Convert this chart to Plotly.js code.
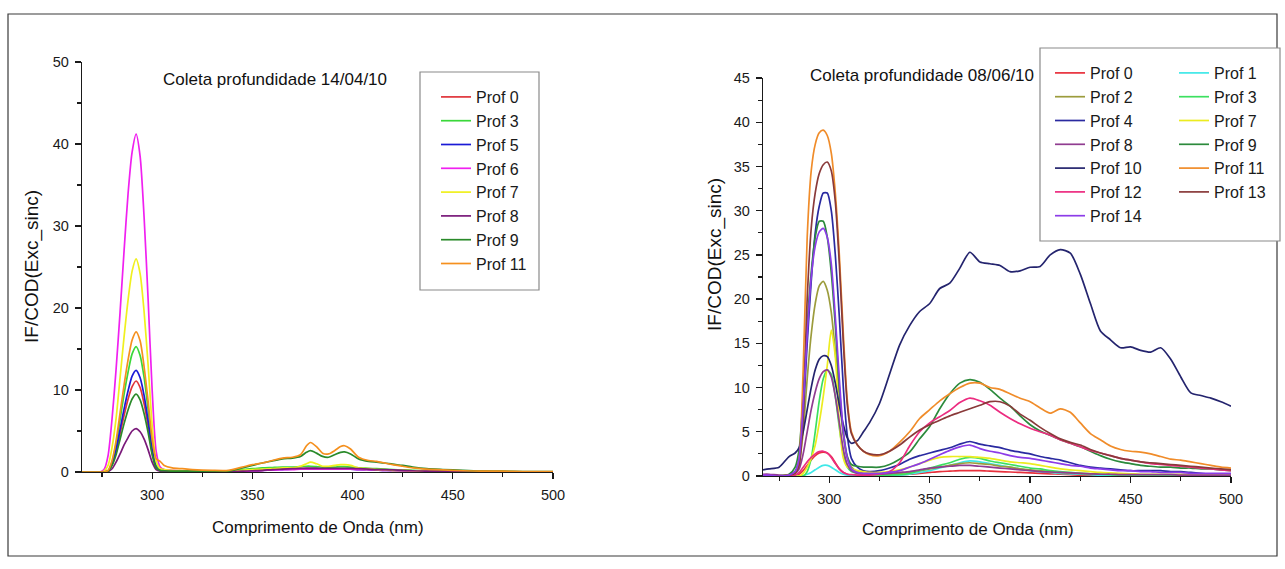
<!DOCTYPE html>
<html>
<head>
<meta charset="utf-8">
<script src="https://cdn.plot.ly/plotly-3.0.1.min.js"></script>
<style>
html,body{margin:0;padding:0;background:#ffffff;}
#chart{width:1285px;height:569px;}
</style>
</head>
<body>
<div id="chart"></div>
<script>
// ---------------- LEFT PANEL: Coleta profundidade 14/04/10 ----------------
const L_TITLE = "Coleta profundidade 14/04/10";
const L_X = [265,270,274,276,278,280,282,284,286,288,290,292,294,296,298,300,302,304,306,310,315,320,330,338,345,350,355,360,365,370,374,377,379,382,385,388,391,394,396,399,403,408,412,416,420,425,430,437,445,455,465,475,485,500];
const L_NAMES = ["Prof 0","Prof 3","Prof 5","Prof 6","Prof 7","Prof 8","Prof 9","Prof 11"];
const L_COLORS = ["#e0353a","#3ad83a","#1a1ad6","#f020f0","#f0f01e","#7a1a7a","#2a8a2a","#f5901e"];
const L_prof0 = [0,0,0,0,0.1,0.9,2.4,4.7,6.9,8.9,10.4,11.1,10.3,8.3,5.6,2.4,0.6,0.2,0.15,0.1,0.1,0.05,0.05,0.05,0.1,0.15,0.2,0.3,0.35,0.4,0.4,0.45,0.45,0.45,0.4,0.4,0.4,0.4,0.4,0.4,0.35,0.3,0.3,0.25,0.2,0.2,0.15,0.1,0.1,0.05,0.05,0,0,0];
const L_prof3 = [0,0,0,0,0.15,1.2,3.4,6.4,9.5,12.2,14.4,15.3,14.2,11.5,7.6,3.4,0.8,0.3,0.2,0.15,0.1,0.1,0.05,0.1,0.3,0.4,0.5,0.55,0.6,0.6,0.65,0.7,0.7,0.65,0.6,0.6,0.6,0.65,0.65,0.6,0.5,0.45,0.4,0.35,0.3,0.25,0.2,0.15,0.1,0.1,0.05,0.05,0,0];
const L_prof5 = [0,0,0,0,0.1,1.0,2.7,5.2,7.7,9.9,11.7,12.4,11.5,9.3,6.2,2.7,0.6,0.2,0.15,0.1,0.05,0.05,0.05,0.05,0.1,0.15,0.2,0.25,0.3,0.35,0.35,0.4,0.4,0.4,0.35,0.35,0.35,0.35,0.35,0.35,0.3,0.3,0.25,0.2,0.2,0.15,0.1,0.1,0.05,0.05,0,0,0,0];
const L_prof6 = [0,0,0,0.3,2,6.5,12.5,19.5,27,34,39,41.2,38.5,31,21,10,2.5,0.6,0.3,0.2,0.1,0.1,0.1,0.1,0.1,0.15,0.2,0.25,0.3,0.3,0.35,0.35,0.35,0.35,0.35,0.35,0.35,0.35,0.35,0.35,0.3,0.3,0.25,0.2,0.2,0.15,0.1,0.1,0.05,0.05,0,0,0,0];
const L_prof7 = [0,0,0,0.1,0.8,3,6.5,11.5,16.5,21,24.5,26,24.2,19.5,13,5.7,1.3,0.4,0.3,0.2,0.15,0.1,0.1,0.15,0.2,0.3,0.35,0.4,0.5,0.5,0.7,1.0,1.2,1.0,0.7,0.7,0.8,0.9,0.9,0.8,0.5,0.4,0.3,0.3,0.2,0.2,0.15,0.1,0.1,0.05,0.05,0,0,0];
const L_prof8 = [0,0,0,0,0.05,0.4,1.2,2.2,3.3,4.2,5.0,5.3,4.9,4.0,2.7,1.2,0.3,0.1,0.1,0.05,0.05,0.05,0.05,0.05,0.1,0.15,0.2,0.3,0.35,0.4,0.45,0.45,0.45,0.45,0.45,0.45,0.45,0.45,0.45,0.45,0.4,0.35,0.3,0.3,0.25,0.2,0.15,0.1,0.1,0.05,0.05,0,0,0];
const L_prof9 = [0,0,0,0,0.1,0.8,2.1,4,5.9,7.6,8.9,9.5,8.8,7.1,4.8,2.1,0.5,0.2,0.15,0.1,0.1,0.1,0.05,0.1,0.5,0.8,1.1,1.35,1.6,1.7,1.9,2.4,2.6,2.3,1.9,1.8,2.1,2.4,2.45,2.2,1.6,1.3,1.2,1.1,0.95,0.8,0.6,0.4,0.3,0.2,0.1,0.1,0.05,0.05];
const L_prof11 = [0,0,0,0,0.2,1.4,3.8,7.2,10.6,13.7,16.1,17.1,16,12.8,8.6,4,1.6,1.3,0.8,0.5,0.4,0.3,0.2,0.2,0.6,0.9,1.1,1.4,1.7,1.8,2.1,3.2,3.6,3.1,2.3,2.2,2.6,3.1,3.2,2.8,1.8,1.4,1.3,1.1,0.9,0.7,0.5,0.35,0.25,0.15,0.1,0.1,0.05,0.05];
const L_SERIES = [L_prof0,L_prof3,L_prof5,L_prof6,L_prof7,L_prof8,L_prof9,L_prof11];

// ---------------- RIGHT PANEL: Coleta profundidade 08/06/10 ----------------
const R_TITLE = "Coleta profundidade 08/06/10";
const R_X = [267,270,275,280,283,285,287,289,291,293,295,297,299,301,303,305,307,309,311,314,317,320,325,330,335,340,345,350,355,360,365,370,375,380,385,390,395,400,405,410,415,420,425,430,435,440,445,450,455,460,465,470,475,480,485,490,495,500];
const R_NAMES = ["Prof 0","Prof 1","Prof 2","Prof 3","Prof 4","Prof 7","Prof 8","Prof 9","Prof 10","Prof 11","Prof 12","Prof 13","Prof 14"];
const R_COLORS = ["#e8303c","#40e8e8","#9c9c3c","#3ce060","#2a2aa0","#ecec20","#903c90","#2c8a3c","#24246e","#f08c2a","#ec2c80","#8a3a3a","#8c3ce8"];
const R_prof0 = [0,0,0,0,0.05,0.2,0.6,1.2,1.8,2.3,2.6,2.7,2.6,2.2,1.5,0.8,0.4,0.2,0.1,0.05,0.05,0.05,0.05,0.1,0.15,0.2,0.3,0.4,0.5,0.55,0.6,0.6,0.6,0.55,0.5,0.45,0.4,0.35,0.3,0.25,0.2,0.15,0.1,0.1,0.05,0.05,0.05,0.05,0.05,0.05,0.05,0.05,0.05,0.05,0.05,0.05,0.05,0.05];
const R_prof1 = [0,0,0,0,0,0,0.05,0.2,0.4,0.7,1.0,1.2,1.2,1.0,0.7,0.4,0.2,0.1,0.05,0,0,0,0,0.05,0.1,0.2,0.4,0.6,0.9,1.2,1.5,1.7,1.6,1.4,1.2,1.0,0.8,0.6,0.5,0.4,0.3,0.25,0.2,0.15,0.1,0.1,0.05,0.05,0.05,0.05,0.05,0.05,0.05,0.05,0.05,0.05,0.05,0.05];
const R_prof2 = [0,0,0,0.1,0.5,1.5,5,11,16,19.5,21.5,22,21,18.5,14,9,4.5,2,1,0.5,0.3,0.2,0.2,0.2,0.3,0.4,0.6,0.8,1.0,1.2,1.4,1.5,1.4,1.3,1.1,1.0,0.8,0.7,0.6,0.5,0.4,0.35,0.3,0.25,0.2,0.2,0.15,0.15,0.1,0.1,0.1,0.1,0.1,0.1,0.1,0.1,0.1,0.1];
const R_prof3 = [0,0,0,0,0,0,0,0.5,2,5,8.5,11,12,11.5,9,5.5,2.5,1,0.5,0.3,0.2,0.15,0.1,0.1,0.15,0.3,0.6,0.9,1.2,1.5,1.9,2.1,2.0,1.7,1.5,1.3,1.1,0.9,0.8,0.6,0.5,0.4,0.3,0.25,0.2,0.15,0.1,0.1,0.1,0.1,0.1,0.1,0.1,0.1,0.1,0.1,0.1,0.1];
const R_prof4 = [0,0,0,0.1,0.5,2,7,15,22,27.5,30.5,32,32,30,25,18,10,4.5,2,1,0.6,0.5,0.6,0.9,1.3,1.9,2.3,2.6,2.9,3.2,3.6,3.9,3.6,3.4,3.2,2.9,2.7,2.5,2.2,2.0,1.8,1.5,1.2,1.0,0.9,0.8,0.7,0.6,0.6,0.6,0.6,0.5,0.5,0.4,0.3,0.2,0.15,0.1];
const R_prof7 = [0,0,0,0,0,0,0.3,1,2,3.5,6,9,12.5,16.5,13.5,6,2,1,0.8,0.6,0.5,0.4,0.4,0.5,0.7,1.0,1.4,1.8,2.1,2.2,2.2,2.2,2.1,2.0,1.8,1.6,1.5,1.4,1.2,1.0,0.8,0.7,0.6,0.5,0.4,0.35,0.3,0.25,0.2,0.2,0.2,0.2,0.2,0.2,0.2,0.2,0.2,0.2];
const R_prof8 = [0.2,0.2,0.1,0.1,0.3,0.8,2.5,5,7.5,9.5,11,11.8,12,11.2,9,6,3,1.3,0.6,0.3,0.2,0.2,0.2,0.3,0.4,0.5,0.7,0.9,1.0,1.1,1.2,1.2,1.1,1.0,0.9,0.8,0.7,0.6,0.5,0.45,0.4,0.35,0.3,0.25,0.2,0.2,0.15,0.15,0.15,0.15,0.15,0.15,0.1,0.1,0.1,0.1,0.1,0.1];
const R_prof9 = [0,0,0,0.2,1,3,9,17,23,27,28.8,28.8,27,23,17,10,5,2.2,1.3,1.1,1.0,1.0,1.0,1.3,1.9,2.7,4.2,5.6,7.6,9.3,10.5,10.9,10.6,9.8,8.8,7.9,6.8,5.8,5.1,4.6,4.1,3.7,3.3,2.8,2.3,1.9,1.6,1.4,1.2,1.1,1.0,1.0,0.9,0.9,0.8,0.8,0.7,0.6];
const R_prof10 = [0.7,0.8,1.0,2.2,2.6,3.2,5,7.5,10,12,13.2,13.6,13.5,12.5,10.5,8,5.8,4.3,3.7,4.0,5.0,6.0,8.2,11.5,14.8,17.0,18.6,19.5,21.2,21.8,23.5,25.3,24.2,24.0,23.8,23.1,23.2,23.6,23.7,25.0,25.6,25.2,22.8,19.5,16.4,15.4,14.5,14.6,14.2,14.0,14.5,13.2,11.2,9.4,9.1,8.8,8.4,7.9];
const R_prof11 = [0,0,0,0.1,0.3,2,12,27,34.5,37.5,38.8,39.1,38.5,36.5,32,25,16,8.5,5,3.5,2.8,2.4,2.3,2.8,3.8,5.0,6.5,7.5,8.5,9.3,10.0,10.5,10.5,10.0,9.8,9.3,8.8,8.4,7.7,7.1,7.6,7.2,6.0,4.8,4.1,3.4,3.0,2.8,2.7,2.5,2.2,1.9,1.8,1.6,1.4,1.2,1.0,0.9];
const R_prof12 = [0.1,0.05,0,0,0.1,0.4,1.0,1.6,2.1,2.5,2.75,2.8,2.6,2.1,1.4,0.8,0.4,0.2,0.15,0.1,0.1,0.1,0.2,0.5,1.5,3.4,5.0,6.0,6.7,7.4,8.3,8.8,8.5,8.0,7.2,6.5,5.9,5.4,5.0,4.6,4.1,3.7,3.3,2.9,2.6,2.3,2.0,1.8,1.6,1.4,1.3,1.2,1.1,1.0,0.9,0.8,0.7,0.6];
const R_prof13 = [0,0,0,0.1,0.3,1.2,7,20,28,32,34.2,35.2,35.5,34.5,31,24,15,8,4.8,3.5,2.8,2.5,2.4,2.8,3.5,4.4,5.2,5.8,6.3,6.8,7.2,7.6,8.0,8.4,8.4,7.9,7.0,6.3,5.5,4.8,4.2,3.8,3.5,3.0,2.6,2.3,2.0,1.8,1.6,1.5,1.4,1.3,1.2,1.1,1.0,0.9,0.8,0.7];
const R_prof14 = [0.1,0.1,0,0.1,0.5,2,8,16,22.5,26,27.6,28,27,24,18,11,5,2,0.8,0.4,0.3,0.3,0.3,0.4,0.6,1.0,1.4,1.9,2.4,2.9,3.3,3.5,3.1,2.8,2.6,2.3,2.1,2.0,1.8,1.6,1.4,1.2,1.1,0.9,0.8,0.7,0.6,0.6,0.5,0.5,0.4,0.4,0.4,0.3,0.3,0.3,0.3,0.3];
const R_SERIES = [R_prof0,R_prof1,R_prof2,R_prof3,R_prof4,R_prof7,R_prof8,R_prof9,R_prof10,R_prof11,R_prof12,R_prof13,R_prof14];
// which legend column each right-panel series sits in
const R_LEGEND = ["legend2","legend3","legend2","legend3","legend2","legend3","legend2","legend3","legend2","legend3","legend2","legend3","legend2"];

const Y_TITLE = "IF/COD(Exc_sinc)";
const X_TITLE = "Comprimento de Onda (nm)";

// ---------------- build ----------------
const W = 1285, H = 569;
const px = v => v / W;
const py = v => 1 - v / H;
const FONT = "Liberation Sans, Arial, Helvetica, sans-serif";

const traces = [];
L_SERIES.forEach((ys, i) => {
  traces.push({
    type: "scatter", mode: "lines", x: L_X, y: ys, name: L_NAMES[i],
    xaxis: "x", yaxis: "y", legend: "legend",
    line: {color: L_COLORS[i], width: 1.7, shape: "spline", smoothing: 0.7},
    hoverinfo: "skip"
  });
});
R_SERIES.forEach((ys, i) => {
  traces.push({
    type: "scatter", mode: "lines", x: R_X, y: ys, name: R_NAMES[i],
    xaxis: "x2", yaxis: "y2", legend: R_LEGEND[i],
    line: {color: R_COLORS[i], width: 1.7, shape: "spline", smoothing: 0.7},
    hoverinfo: "skip"
  });
});

const axisBase = {
  showline: true, linecolor: "#1a1a1a", linewidth: 1.3,
  ticks: "outside", ticklen: 6, tickwidth: 1.3, tickcolor: "#1a1a1a",
  showgrid: false, zeroline: false, fixedrange: true,
  tickfont: {family: FONT, size: 14.5, color: "#1a1a1a"},
  ticklabelstandoff: 3
};
const minorBase = {ticks: "outside", ticklen: 4, tickwidth: 1.1, tickcolor: "#1a1a1a", showgrid: false};

const legendBase = {
  xanchor: "left", yanchor: "top", bgcolor: "rgba(0,0,0,0)", borderwidth: 0,
  font: {family: FONT, size: 16, color: "#1a1a1a"}, tracegroupgap: 0, orientation: "v"
};

const layout = {
  width: W, height: H,
  margin: {l: 0, r: 0, t: 0, b: 0, pad: 0},
  paper_bgcolor: "#ffffff", plot_bgcolor: "rgba(0,0,0,0)",
  font: {family: FONT, color: "#1a1a1a"},
  showlegend: true,
  xaxis: Object.assign({}, axisBase, {
    domain: [px(82), px(553)], range: [265, 500], anchor: "y",
    tickmode: "linear", tick0: 300, dtick: 50,
    minor: Object.assign({}, minorBase, {tick0: 275, dtick: 25})
  }),
  yaxis: Object.assign({}, axisBase, {
    domain: [py(472), py(62)], range: [0, 50], anchor: "x",
    tickmode: "linear", tick0: 0, dtick: 10,
    minor: Object.assign({}, minorBase, {tick0: 0, dtick: 5})
  }),
  xaxis2: Object.assign({}, axisBase, {
    domain: [px(763), px(1231)], range: [267, 500], anchor: "y2",
    tickmode: "linear", tick0: 300, dtick: 50,
    minor: Object.assign({}, minorBase, {tick0: 275, dtick: 25})
  }),
  yaxis2: Object.assign({}, axisBase, {
    domain: [py(476), py(78)], range: [0, 45], anchor: "x2",
    tickmode: "linear", tick0: 0, dtick: 5,
    minor: Object.assign({}, minorBase, {tick0: 0, dtick: 2.5})
  }),
  legend: Object.assign({}, legendBase, {x: px(436), y: py(80)}),
  legend2: Object.assign({}, legendBase, {x: px(1050), y: py(56)}),
  legend3: Object.assign({}, legendBase, {x: px(1174), y: py(56)}),
  shapes: [
    {type: "rect", xref: "paper", yref: "paper", x0: px(8), x1: px(1277), y0: py(556), y1: py(14),
     line: {color: "#3a3a3a", width: 1.2}, fillcolor: "rgba(0,0,0,0)", layer: "below"},
    {type: "rect", xref: "paper", yref: "paper", x0: px(420), x1: px(539), y0: py(290), y1: py(72),
     line: {color: "#8a8a8a", width: 1.2}, fillcolor: "#ffffff", layer: "below"},
    {type: "rect", xref: "paper", yref: "paper", x0: px(1040), x1: px(1280), y0: py(241), y1: py(48),
     line: {color: "#8a8a8a", width: 1.2}, fillcolor: "#ffffff", layer: "below"}
  ],
  annotations: [
    {text: L_TITLE, xref: "paper", yref: "paper", x: px(275), y: py(80), xanchor: "center", yanchor: "middle",
     showarrow: false, font: {family: FONT, size: 17, color: "#111"}},
    {text: R_TITLE, xref: "paper", yref: "paper", x: px(922), y: py(75), xanchor: "center", yanchor: "middle",
     showarrow: false, font: {family: FONT, size: 17, color: "#111"}},
    {text: Y_TITLE, xref: "paper", yref: "paper", x: px(32), y: py(267), xanchor: "center", yanchor: "middle",
     textangle: -90, showarrow: false, font: {family: FONT, size: 19, color: "#111"}},
    {text: Y_TITLE, xref: "paper", yref: "paper", x: px(715), y: py(255), xanchor: "center", yanchor: "middle",
     textangle: -90, showarrow: false, font: {family: FONT, size: 19, color: "#111"}},
    {text: X_TITLE, xref: "paper", yref: "paper", x: px(318), y: py(527), xanchor: "center", yanchor: "middle",
     showarrow: false, font: {family: FONT, size: 17, color: "#111"}},
    {text: X_TITLE, xref: "paper", yref: "paper", x: px(968), y: py(529), xanchor: "center", yanchor: "middle",
     showarrow: false, font: {family: FONT, size: 17, color: "#111"}}
  ]
};

Plotly.newPlot("chart", traces, layout, {staticPlot: true, displayModeBar: false});
</script>
</body>
</html>
